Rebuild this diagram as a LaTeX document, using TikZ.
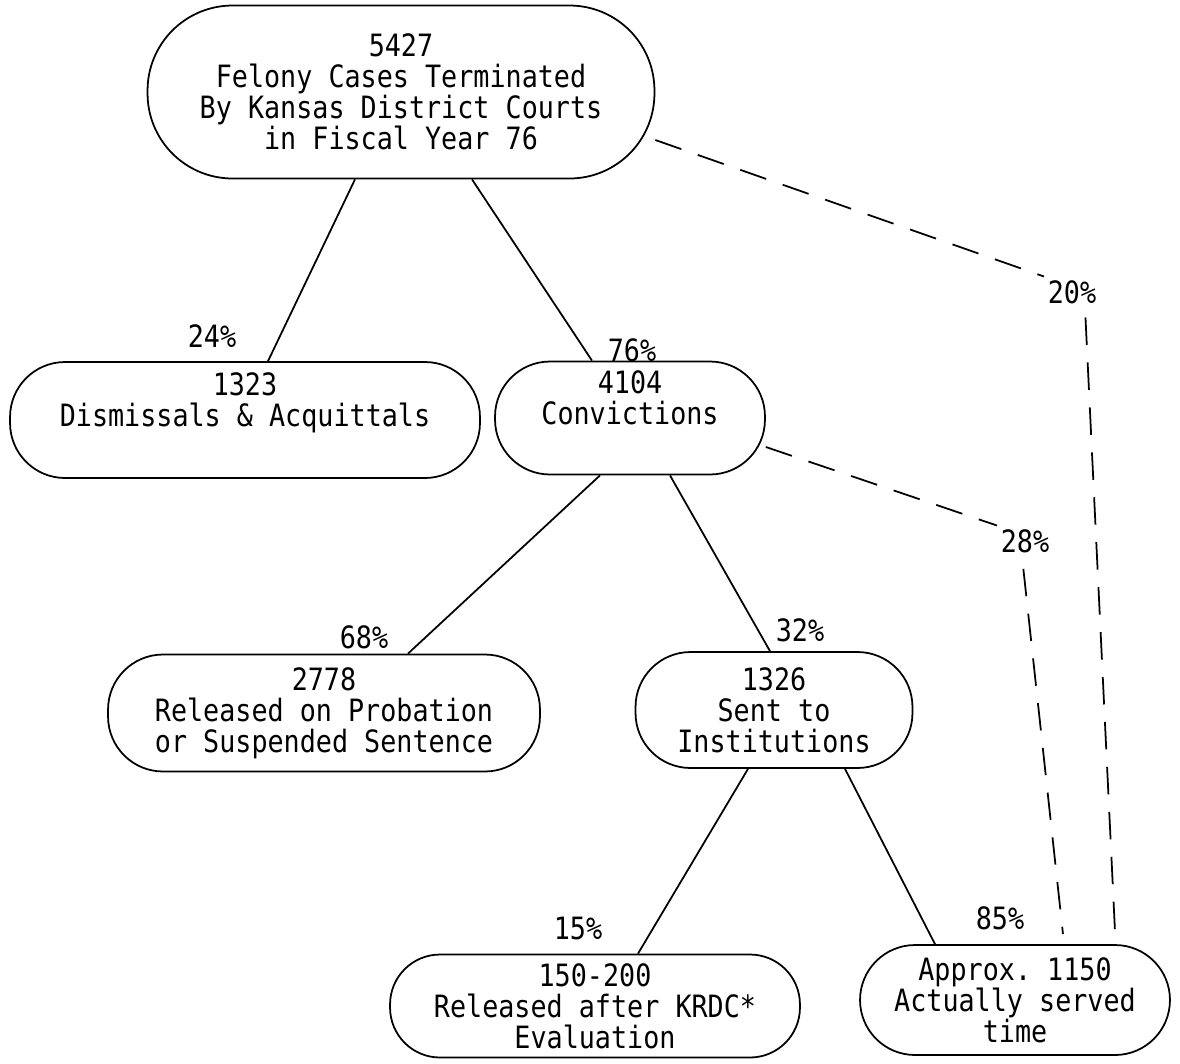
\documentclass[tikz,border=0pt]{standalone}
\usepackage{fontspec}
\setmonofont[FakeStretch=0.87]{DejaVu Sans Mono}

\tikzset{
  box/.style={draw, line width=1pt, rounded corners=1.1cm, align=center, inner sep=0pt},
  pct/.style={inner sep=2pt},
  link/.style={line width=1pt},
  dashlink/.style={line width=1pt, dash pattern=on 0.55cm off 0.35cm},
}

\begin{document}
\begin{tikzpicture}[x=0.02cm, y=-0.02cm, font=\ttfamily\fontsize{17.5}{17.6}\selectfont]

\useasboundingbox (0,0) rectangle (1180,1063);

\node[box, minimum width=10.14cm, minimum height=3.46cm, rounded corners=1.7cm] (felony) at (401,92) {5427\\Felony Cases Terminated\\By Kansas District Courts\\in Fiscal Year 76};
\node[box, minimum width=9.4cm, minimum height=2.32cm] (dismiss) at (245,420) {1323\\Dismissals \& Acquittals\\\strut};
\node[box, minimum width=5.4cm, minimum height=2.26cm] (convict) at (630,418) {4104\\Convictions\\\strut};
\node[box, minimum width=8.64cm, minimum height=2.34cm] (probation) at (324,713) {2778\\Released on Probation\\or Suspended Sentence};
\node[box, minimum width=5.54cm, minimum height=2.32cm] (inst) at (774,710) {1326\\Sent to\\Institutions};
\node[box, minimum width=8.2cm, minimum height=2.06cm, rounded corners=1cm] (krdc) at (595,1006) {150-200\\Released after KRDC*\\Evaluation};
\node[box, minimum width=6.2cm, minimum height=2.2cm] (served) at (1015,1000) {Approx. 1150\\Actually served\\time};

\node[pct] (p24) at (212,336) {24\%};
\node[pct] (p76) at (632,350) {76\%};
\node[pct] (p68) at (364,637) {68\%};
\node[pct] (p32) at (800,630) {32\%};
\node[pct] (p15) at (578,928) {15\%};
\node[pct] (p85) at (1000,918) {85\%};
\node[pct] (p20) at (1072,292) {20\%};
\node[pct] (p28) at (1025,541) {28\%};

\draw[link] ([xshift=-0.92cm]felony.south) -- ([xshift=0.46cm]dismiss.north);
\draw[link] ([xshift=1.42cm]felony.south) -- ([xshift=-0.76cm]convict.north);
\draw[link] ([xshift=-0.6cm]convict.south) -- ([xshift=1.68cm]probation.north);
\draw[link] ([xshift=0.8cm]convict.south) -- ([xshift=-0.08cm]inst.north);
\draw[link] ([xshift=-0.52cm]inst.south) -- ([xshift=0.86cm]krdc.north);
\draw[link] ([xshift=1.42cm]inst.south) -- ([xshift=-1.6cm]served.north);

\draw[dashlink] ([yshift=-0.96cm]felony.east) -- (p20.north west);
\draw[dashlink, shorten <=0.2cm] ([xshift=0.26cm]p20.south) -- ([xshift=2cm, yshift=0.26cm]served.north);
\draw[dashlink] ([yshift=-0.58cm]convict.east) -- (p28.north west);
\draw[dashlink, shorten <=0.25cm] ([xshift=-0.06cm]p28.south) -- ([xshift=0.96cm, yshift=0.2cm]served.north);

\end{tikzpicture}
\end{document}
